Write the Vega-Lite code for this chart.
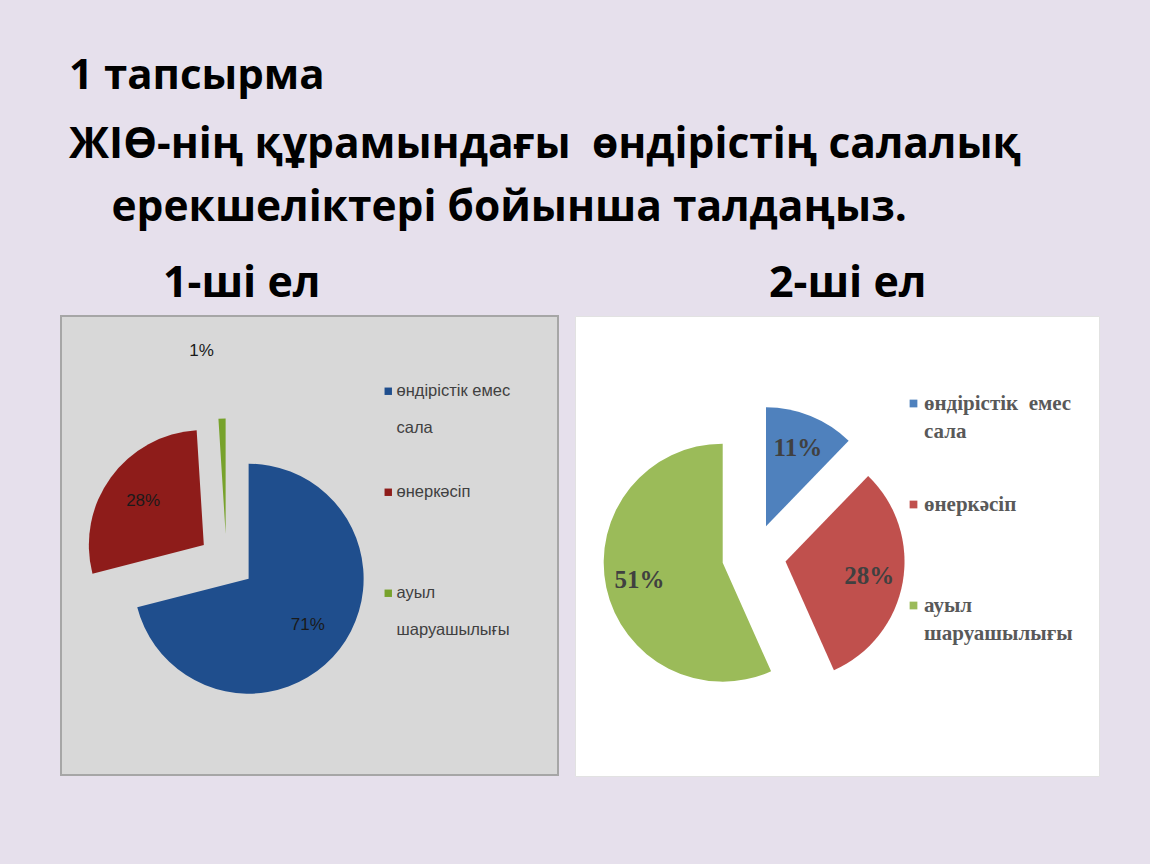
{
  "$schema": "https://vega.github.io/schema/vega-lite/v6.json",
  "background": "#e6e0ec",
  "padding": {"left": 60, "top": 54, "right": 60, "bottom": 100},
  "title": {
    "text": "1 тапсырма",
    "subtitle": ["ЖІӨ-нің құрамындағы\u2002өндірістің салалық", "\u200b\u2003ерекшеліктері бойынша талдаңыз."],
    "anchor": "start",
    "frame": "group",
    "dx": 8,
    "font": "Open Sans",
    "fontSize": 42,
    "fontWeight": "bold",
    "color": "#000000",
    "subtitleFont": "Open Sans",
    "subtitleFontSize": 42.5,
    "subtitleFontWeight": "bold",
    "subtitleColor": "#000000",
    "subtitleLineHeight": 63,
    "subtitlePadding": 26,
    "offset": 32
  },
  "spacing": 15,
  "resolve": {"scale": {"color": "independent", "theta": "independent"}, "legend": {"color": "independent"}},
  "hconcat": [
    {
      "width": 497,
      "height": 459,
      "view": {"fill": "#d8d8d8", "stroke": "#a6a6a6", "strokeWidth": 2},
      "title": {"text": "1-ші ел", "anchor": "start", "dx": 102, "font": "Open Sans", "fontSize": 43, "fontWeight": "bold", "color": "#000000", "offset": 10},
      "data": {"values": [
        {"sector": "өндірістік емес сала", "pct": 71, "ord": 1},
        {"sector": "өнеркәсіп", "pct": 28, "ord": 2},
        {"sector": "ауыл шаруашылығы", "pct": 1, "ord": 3}
      ]},
      "encoding": {
        "theta": {"field": "pct", "type": "quantitative", "stack": true},
        "order": {"field": "ord", "type": "quantitative"}
      },
      "layer": [
        {
          "mark": {"type": "arc", "radius": 115,
            "xOffset": {"expr": "-83 + 28*sin(PI*(datum.pct_start+datum.pct_end)/100)"},
            "yOffset": {"expr": "16 - 28*cos(PI*(datum.pct_start+datum.pct_end)/100)"}},
          "encoding": {
            "color": {"field": "sector", "type": "nominal",
              "scale": {"domain": ["өндірістік емес сала", "өнеркәсіп", "ауыл шаруашылығы"], "range": ["#1f4e8d", "#8e1c1a", "#77a22b"]},
              "sort": null,
              "legend": {
                "orient": "none", "legendX": 319, "legendY": 67, "title": null, "padding": 0,
                "symbolType": "square", "symbolSize": 55, "symbolStrokeWidth": 0,
                "labelFont": "Liberation Sans, sans-serif", "labelFontSize": 16.5, "labelColor": "#404040",
                "labelOffset": 0, "labelLimit": 0, "rowPadding": 10,
                "labelExpr": "datum.label == 'өндірістік емес сала' ? ['өндірістік емес', 'сала', ''] : datum.label == 'ауыл шаруашылығы' ? ['ауыл', 'шаруашылығы', ''] : [datum.label, '', '']",
                "encode": {"labels": {"update": {"lineHeight": {"value": 37}}}}
              }
            }
          }
        },
        {
          "mark": {"type": "text",
            "radius": {"expr": "datum.pct < 5 ? 183 : 75"},
            "align": {"expr": "datum.pct < 5 ? 'right' : 'center'"},
            "dx": {"expr": "datum.pct < 5 ? -6 : 0"},
            "text": {"expr": "datum.pct + '%'"},
            "font": "Liberation Sans, sans-serif", "fontSize": 17, "fill": "#1a1a1a",
            "xOffset": {"expr": "-83 + 28*sin(PI*(datum.pct_start+datum.pct_end)/100)"},
            "yOffset": {"expr": "16 - 28*cos(PI*(datum.pct_start+datum.pct_end)/100)"}}
        }
      ]
    },
    {
      "width": 524,
      "height": 460,
      "view": {"fill": "#ffffff", "stroke": "#e2e2e2", "strokeWidth": 1},
      "title": {"text": "2-ші ел", "anchor": "start", "dx": 194, "font": "Open Sans", "fontSize": 43, "fontWeight": "bold", "color": "#000000", "offset": 10},
      "data": {"values": [
        {"sector": "өндірістік емес сала", "pct": 11, "ord": 1},
        {"sector": "өнеркәсіп", "pct": 28, "ord": 2},
        {"sector": "ауыл шаруашылығы", "pct": 51, "ord": 3}
      ]},
      "encoding": {
        "theta": {"field": "pct", "type": "quantitative", "stack": true},
        "order": {"field": "ord", "type": "quantitative"}
      },
      "layer": [
        {
          "mark": {"type": "arc", "radius": 119,
            "xOffset": {"expr": "-83 + 32*sin(PI*(datum.pct_start+datum.pct_end)/90)"},
            "yOffset": {"expr": "10 - 32*cos(PI*(datum.pct_start+datum.pct_end)/90)"}},
          "encoding": {
            "color": {"field": "sector", "type": "nominal",
              "scale": {"domain": ["өндірістік емес сала", "өнеркәсіп", "ауыл шаруашылығы"], "range": ["#4f81bd", "#c0504d", "#9bbb59"]},
              "sort": null,
              "legend": {
                "orient": "none", "legendX": 328, "legendY": 77, "title": null, "padding": 0,
                "symbolType": "square", "symbolSize": 60, "symbolStrokeWidth": 0,
                "labelFont": "Liberation Serif, serif", "labelFontWeight": "bold", "labelFontSize": 21, "labelColor": "#595959",
                "labelOffset": 0, "labelLimit": 0, "rowPadding": 23,
                "labelExpr": "datum.label == 'өндірістік емес сала' ? ['өндірістік\u2002емес', 'сала', ''] : datum.label == 'ауыл шаруашылығы' ? ['ауыл', 'шаруашылығы', ''] : [datum.label, '', '']",
                "encode": {"labels": {"update": {"lineHeight": {"value": 28}}}}
              }
            }
          }
        },
        {
          "mark": {"type": "text", "radius": 85,
            "text": {"expr": "datum.pct + '%'"},
            "font": "Liberation Serif, serif", "fontWeight": "bold", "fontSize": 25, "fill": "#404040",
            "xOffset": {"expr": "-83 + 32*sin(PI*(datum.pct_start+datum.pct_end)/90)"},
            "yOffset": {"expr": "10 - 32*cos(PI*(datum.pct_start+datum.pct_end)/90)"}}
        }
      ]
    }
  ]
}
